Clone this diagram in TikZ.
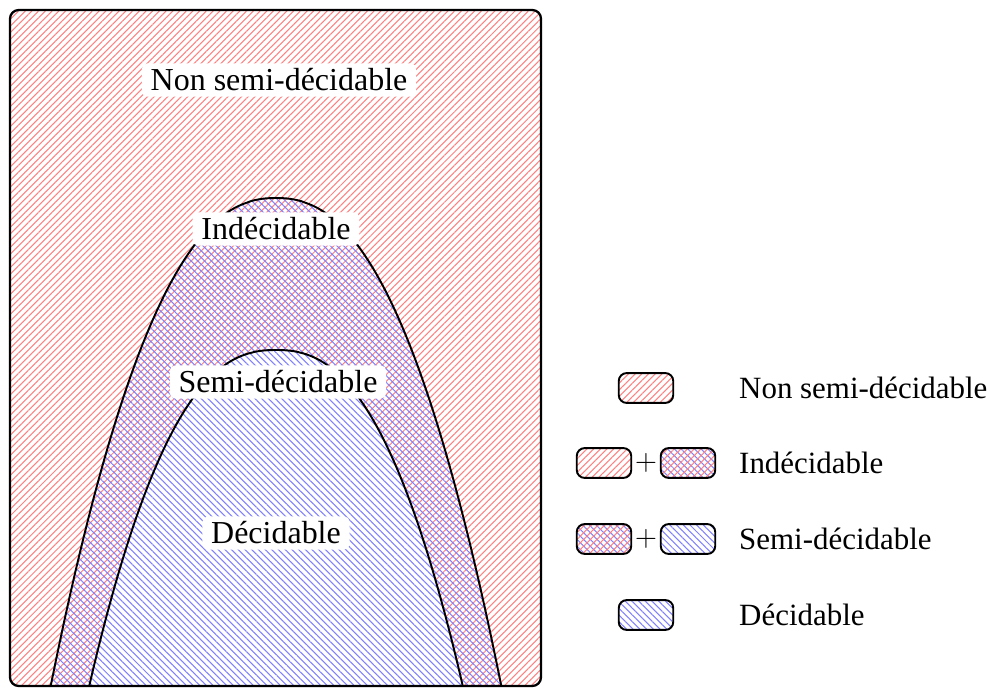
\documentclass[tikz,border=0pt]{standalone}
\usepackage{fontspec}
\setmainfont{Liberation Serif}
\usepackage{tikz}
\usetikzlibrary{patterns.meta}

\begin{document}
\begin{tikzpicture}[x=0.02cm, y=-0.02cm,
    nsd/.style={pattern={Lines[angle=45,distance=2.7pt,line width=0.6pt]}, pattern color=red!50},
    dec/.style={pattern={Lines[angle=-45,distance=2.7pt,line width=0.6pt]}, pattern color=blue!50},
    lbl/.style={fill=white, rounded corners=3pt, inner xsep=5pt, inner ysep=3pt, font=\fontsize{18.2}{20}\selectfont},
    key/.style={draw, line width=1.1pt, rounded corners=4.5pt, minimum width=31pt, minimum height=17pt, inner sep=0pt},
    txt/.style={anchor=west, font=\fontsize{17.6}{20}\selectfont}]
    \useasboundingbox (0,0) rectangle (990,687);
    \begin{scope}
        \clip[rounded corners=5pt] (10,10) rectangle (541,686);
        \fill[nsd] (10,10) rectangle (541,686);
        \fill[dec] plot[domain=-232:232, samples=120] ({276+\x},{198+489*(abs(\x)/225.5)^2.3}) -- cycle;
        \fill[white] plot[domain=-195:195, samples=120] ({276+\x},{350+337*(abs(\x)/187)^2.4}) -- cycle;
        \fill[dec] plot[domain=-195:195, samples=120] ({276+\x},{350+337*(abs(\x)/187)^2.4}) -- cycle;
        \draw[line width=1.1pt] plot[domain=-232:232, samples=120] ({276+\x},{198+489*(abs(\x)/225.5)^2.3});
        \draw[line width=1.1pt] plot[domain=-195:195, samples=120] ({276+\x},{350+337*(abs(\x)/187)^2.4});
    \end{scope}
    \draw[line width=1.3pt, rounded corners=5pt] (10,10) rectangle (541,686);
    \node[lbl] (nsdlbl) at (279,80) {Non semi-décidable};
    \node[lbl] (indlbl) at (276,229) {Indécidable};
    \node[lbl] (sdlbl) at (278,382) {Semi-décidable};
    \node[lbl] (declbl) at (276,533) {Décidable};
    \node[key, nsd] (k1) at (646,388) {};
    \node[key, nsd] (k2a) at (604,463) {};
    \node[txt, anchor=center] (p2) at (646,463) {$+$};
    \node[key, nsd, preaction={dec}] (k2b) at (688,463) {};
    \node[key, nsd, preaction={dec}] (k3a) at (604,539) {};
    \node[txt, anchor=center] (p3) at (646,539) {$+$};
    \node[key, dec] (k3b) at (688,539) {};
    \node[key, dec] (k4) at (646,615) {};
    \node[txt] (t1) at (733,388) {Non semi-décidable};
    \node[txt] (t2) at (733,463) {Indécidable};
    \node[txt] (t3) at (733,539) {Semi-décidable};
    \node[txt] (t4) at (733,615) {Décidable};
\end{tikzpicture}
\end{document}
